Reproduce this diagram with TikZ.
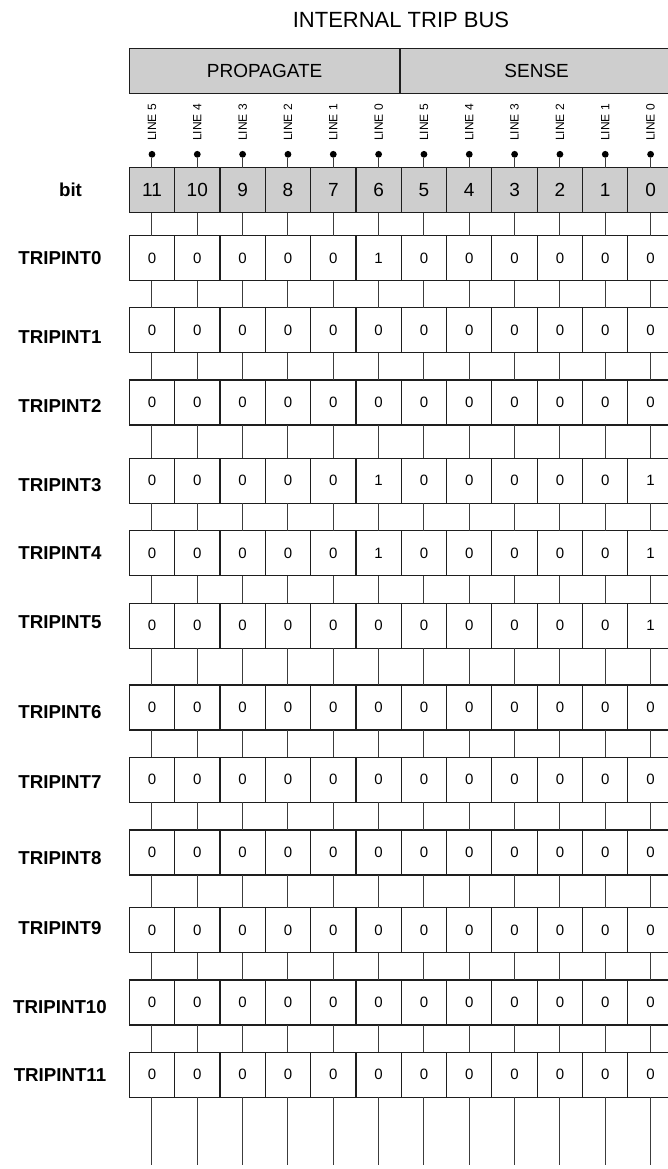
\documentclass[tikz,border=0pt]{standalone}
\usepackage{fontspec}
\setmainfont{Liberation Sans}
\usetikzlibrary{calc}
\definecolor{hdrgray}{RGB}{206,206,206}
\definecolor{edge}{RGB}{30,30,30}
\definecolor{wire}{RGB}{60,60,60}
\begin{document}
\begin{tikzpicture}[x=1pt,y=-1pt,
  cellbox/.style={draw=edge, line width=1.1pt, minimum width=45.33pt, minimum height=45pt,
    inner sep=0pt, outer sep=0pt, anchor=north west, font=\fontsize{15}{15}\selectfont},
  bitbox/.style={cellbox, fill=hdrgray, font=\fontsize{19}{19}\selectfont},
  hdrbox/.style={draw=edge, line width=1.1pt, fill=hdrgray, minimum height=45pt,
    inner sep=0pt, outer sep=0pt, anchor=north west, font=\fontsize{19}{19}\selectfont},
  rowlabel/.style={font=\fontsize{18.7}{18.7}\selectfont\bfseries, inner sep=0pt},
  linelabel/.style={rotate=90, anchor=west, inner sep=0pt, font=\fontsize{12}{12}\selectfont},
  tapdot/.style={circle, fill=black, inner sep=0pt, minimum size=6.8pt},
  wireline/.style={draw=wire, line width=1pt}
]
\clip (0,0) rectangle (668,1169);
\fill[white] (0,0) rectangle (668,1169);

% title
\node[font=\fontsize{22}{22}\selectfont, inner sep=0pt] (title) at (401,19.5) {INTERNAL TRIP BUS};

% header boxes
\node[hdrbox, minimum width=270.7pt] (prop) at (129.3,48.3) {PROPAGATE};
\node[hdrbox, minimum width=273.3pt] (sense) at (400,48.3) {SENSE};

% bit row
\node[rowlabel] (bitlbl) at (70.5,190) {bit};
\foreach \c in {0,...,11} {
  \pgfmathsetmacro{\xl}{129.3+45.33*\c}
  \pgfmathsetmacro{\xc}{\xl+22.665}
  \pgfmathtruncatemacro{\bn}{11-\c}
  \pgfmathtruncatemacro{\ln}{5-mod(\c,6)}
  \node[bitbox] (b-\c) at (\xl,167.7) {\bn};
  \node[tapdot] (d\c) at (\xc,154.3) {};
  \node[linelabel] (l\c) at (\xc,141) {LINE \ln};
  \draw[wireline] (d\c) -- (b-\c.north);
}

% TRIPINT rows
\foreach \r/\top/\ly/\vals in {
  0/235.7/258.3/{0,0,0,0,0,1,0,0,0,0,0,0},
  1/307.7/336.7/{0,0,0,0,0,0,0,0,0,0,0,0},
  2/380/405.7/{0,0,0,0,0,0,0,0,0,0,0,0},
  3/458.3/485/{0,0,0,0,0,1,0,0,0,0,0,1},
  4/530.7/553.3/{0,0,0,0,0,1,0,0,0,0,0,1},
  5/603.3/621.7/{0,0,0,0,0,0,0,0,0,0,0,1},
  6/685/711.7/{0,0,0,0,0,0,0,0,0,0,0,0},
  7/757.3/781.7/{0,0,0,0,0,0,0,0,0,0,0,0},
  8/830/858.3/{0,0,0,0,0,0,0,0,0,0,0,0},
  9/907.7/928.3/{0,0,0,0,0,0,0,0,0,0,0,0},
  10/980/1006.7/{0,0,0,0,0,0,0,0,0,0,0,0},
  11/1052.3/1075/{0,0,0,0,0,0,0,0,0,0,0,0}} {
  \node[rowlabel] (t\r) at (60,\ly) {TRIPINT\r};
  \foreach \v [count=\c from 0] in \vals {
    \pgfmathsetmacro{\xl}{129.3+45.33*\c}
    \node[cellbox] (c\r-\c) at (\xl,\top) {\v};
  }
}

% connectors
\foreach \c in {0,...,11} {
  \draw[wireline] (b-\c.south) -- (c0-\c.north);
  \foreach \r [evaluate=\r as \n using int(\r+1)] in {0,...,10} {
    \draw[wireline] (c\r-\c.south) -- (c\n-\c.north);
  }
  \coordinate (e\c) at ($(c11-\c.south)+(0,68)$);
  \draw[wireline] (c11-\c.south) -- (e\c);
}
\end{tikzpicture}
\end{document}
